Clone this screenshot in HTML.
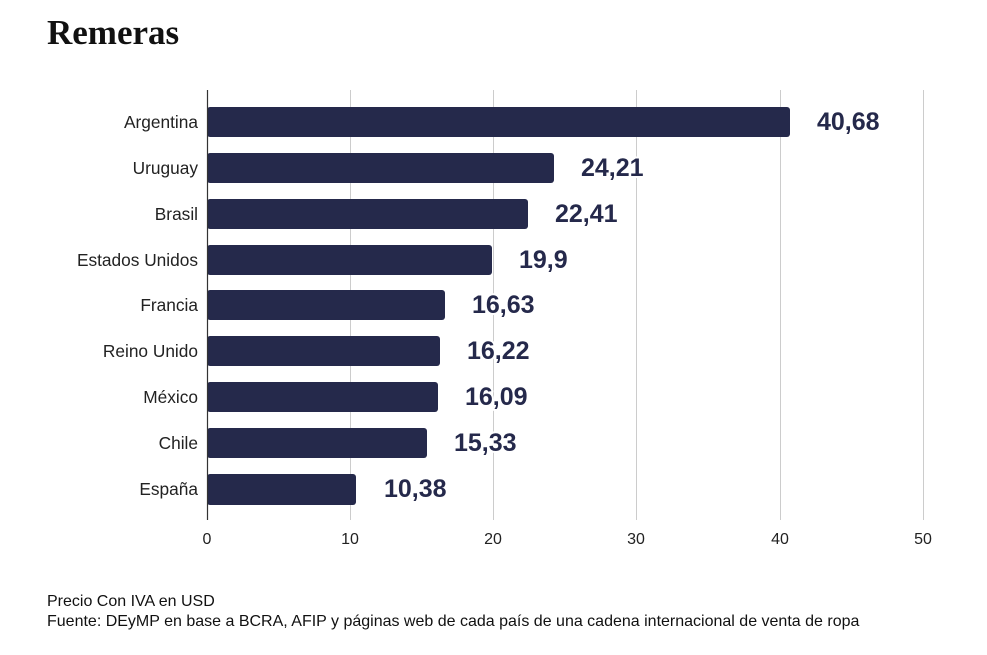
<!DOCTYPE html>
<html>
<head>
<meta charset="utf-8">
<style>
html,body{margin:0;padding:0;background:#fff;}
body{width:987px;height:655px;overflow:hidden;position:relative;}
svg{position:absolute;left:0;top:0;}
</style>
</head>
<body>
<svg width="987" height="655" viewBox="0 0 987 655" xmlns="http://www.w3.org/2000/svg">
  <text x="47" y="44" font-family="'Liberation Serif', serif" font-weight="bold" font-size="35" fill="#111">Remeras</text>

  <!-- gridlines -->
  <g stroke="#cccccc" stroke-width="1">
    <line x1="350.5" y1="90" x2="350.5" y2="520"/>
    <line x1="493.5" y1="90" x2="493.5" y2="520"/>
    <line x1="636.5" y1="90" x2="636.5" y2="520"/>
    <line x1="780.5" y1="90" x2="780.5" y2="520"/>
    <line x1="923.5" y1="90" x2="923.5" y2="520"/>
  </g>

  <!-- bars -->
  <g fill="#25294b">
    <rect x="207" y="107" width="583" height="30" rx="3"/>
    <rect x="207" y="153" width="347" height="30" rx="3"/>
    <rect x="207" y="199" width="321" height="30" rx="3"/>
    <rect x="207" y="245" width="285" height="30" rx="3"/>
    <rect x="207" y="290" width="238" height="30" rx="3"/>
    <rect x="207" y="336" width="233" height="30" rx="3"/>
    <rect x="207" y="382" width="231" height="30" rx="3"/>
    <rect x="207" y="428" width="220" height="30" rx="3"/>
    <rect x="207" y="474" width="149" height="31" rx="3"/>
  </g>

  <!-- axis -->
  <line x1="207.5" y1="90" x2="207.5" y2="520" stroke="#333" stroke-width="1.2"/>

  <!-- category labels -->
  <g font-family="'Liberation Sans', sans-serif" font-size="17.3" fill="#222" text-anchor="end">
    <text x="198" y="128">Argentina</text>
    <text x="198" y="174">Uruguay</text>
    <text x="198" y="220">Brasil</text>
    <text x="198" y="266">Estados Unidos</text>
    <text x="198" y="311">Francia</text>
    <text x="198" y="357">Reino Unido</text>
    <text x="198" y="403">México</text>
    <text x="198" y="449">Chile</text>
    <text x="198" y="495">España</text>
  </g>

  <!-- value labels -->
  <g font-family="'Liberation Sans', sans-serif" font-size="25" font-weight="bold" fill="#25294b" stroke="#fff" stroke-width="4" paint-order="stroke" stroke-linejoin="round">
    <text x="817" y="130">40,68</text>
    <text x="581" y="176">24,21</text>
    <text x="555" y="222">22,41</text>
    <text x="519" y="268">19,9</text>
    <text x="472" y="313">16,63</text>
    <text x="467" y="359">16,22</text>
    <text x="465" y="405">16,09</text>
    <text x="454" y="451">15,33</text>
    <text x="384" y="497">10,38</text>
  </g>

  <!-- x ticks -->
  <g font-family="'Liberation Sans', sans-serif" font-size="16" fill="#222" text-anchor="middle">
    <text x="207" y="544">0</text>
    <text x="350" y="544">10</text>
    <text x="493" y="544">20</text>
    <text x="636" y="544">30</text>
    <text x="780" y="544">40</text>
    <text x="923" y="544">50</text>
  </g>

  <g font-family="'Liberation Sans', sans-serif" font-size="16" fill="#111">
    <text x="47" y="606">Precio Con IVA en USD</text>
    <text x="47" y="626">Fuente: DEyMP en base a BCRA, AFIP y páginas web de cada país de una cadena internacional de venta de ropa</text>
  </g>
</svg>
</body>
</html>
